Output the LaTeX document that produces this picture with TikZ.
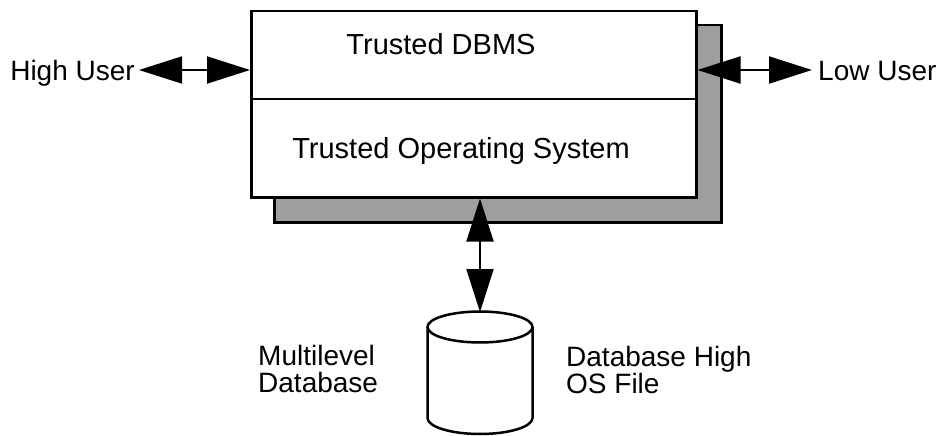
\documentclass[tikz,border=0pt]{standalone}
\usepackage{fontspec}
\setmainfont{Liberation Sans}
\usetikzlibrary{arrows.meta}
\begin{document}
\begin{tikzpicture}[x=1pt,y=-1pt,
  lbl/.style={font=\fontsize{28}{27}\selectfont, inner sep=0pt, align=left},
  boxtxt/.style={font=\fontsize{29}{30}\selectfont, inner sep=0pt},
  thick line/.style={line width=2.5pt},
  bothways/.style={line width=2pt, {Triangle[length=43pt,width=27pt]}-{Triangle[length=43pt,width=27pt]}},
  ]
\useasboundingbox (0,0) rectangle (938,436);
% shadow and main box
\node[draw, thick line, fill=black!38, minimum width=447pt, minimum height=197pt, inner sep=0pt, anchor=north west] (shadow) at (273,24) {};
\node[draw, thick line, fill=white, minimum width=445pt, minimum height=186pt, inner sep=0pt, anchor=north west] (box) at (250,10) {};
\draw[thick line] (box.west |- 0,99) -- (box.east |- 0,99);
\node[boxtxt, anchor=base] (dbms) at (441,55) {Trusted DBMS};
\node[boxtxt, anchor=base] (tos) at (461,158) {Trusted Operating System};
% users
\node[lbl, anchor=base east] (hu) at (135,81) {High User};
\node[lbl, anchor=base west] (lu) at (818,81) {Low User};
\coordinate (hl) at (139,70);
\coordinate (lr) at (812,70);
\draw[bothways] (hl) -- (hl -| box.west);
\draw[bothways] (lr -| box.east) -- (lr);
% database cylinder
\coordinate (dbtop) at (480,312);
\draw[thick line] (427.5,327) -- (427.5,418) arc[start angle=180, end angle=0, x radius=52.5, y radius=16] -- (532.5,327);
\draw[thick line] (480,327) ellipse[x radius=52.5, y radius=15.5];
\draw[bothways] (box.south -| dbtop) -- (dbtop);
\node[lbl, anchor=north west] (mdb) at (258,345) {Multilevel\\Database};
\node[lbl, anchor=north west] (dbh) at (566,346) {Database High\\OS File};
\end{tikzpicture}
\end{document}
